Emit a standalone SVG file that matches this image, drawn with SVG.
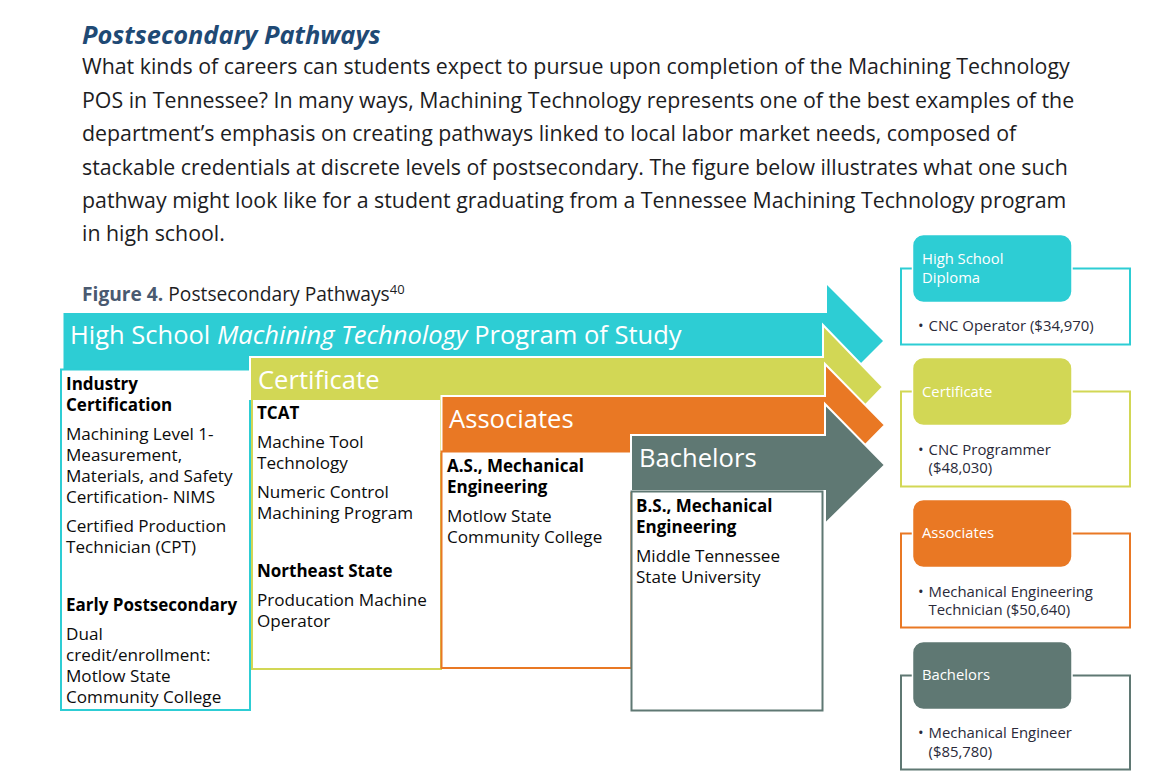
<svg xmlns="http://www.w3.org/2000/svg" width="1157" height="774" viewBox="0 0 1157 774">
<style>
text{font-family:"Open Sans","Noto Sans",sans-serif}
.p{font-size:21.33px;fill:#1d1d1f}
.b{font-size:17.1px;fill:#0c0c0c}
.h{font-size:17px;font-weight:700;fill:#000}
.t{font-size:25.6px;fill:#fff}
.s{font-size:14.8px;fill:#fff}
.l{font-size:14.9px;fill:#2a2a3a}
.box{fill:#fff;stroke-width:2}
.a{stroke:#fff;stroke-width:2}
.f{fill:#fff;stroke-width:2}
.r{stroke:#fff;stroke-width:1.5}
.teal{fill:#2dcdd4}.yel{fill:#d2d755}.ora{fill:#e97824}.gry{fill:#5f7873}
.steal{stroke:#2dcdd4}.syel{stroke:#d2d755}.sora{stroke:#e97824}.sgry{stroke:#5f7873}
</style>
<rect width="1157" height="774" fill="#fff"/>
<g id="intro">
<text x="82" y="44" font-size="25.4" font-weight="700" font-style="italic" fill="#1f4a75">Postsecondary Pathways</text>
<text class="p" x="82" y="74">What kinds of careers can students expect to pursue upon completion of the Machining Technology</text>
<text class="p" x="82" y="108">POS in Tennessee? In many ways, Machining Technology represents one of the best examples of the</text>
<text class="p" x="82" y="141">department’s emphasis on creating pathways linked to local labor market needs, composed of</text>
<text class="p" x="82" y="175">stackable credentials at discrete levels of postsecondary. The figure below illustrates what one such</text>
<text class="p" x="82" y="208">pathway might look like for a student graduating from a Tennessee Machining Technology program</text>
<text class="p" x="82" y="241">in high school.</text>
<text x="82" y="301" font-size="19.2" fill="#1d1d1f"><tspan font-weight="700" fill="#4a5a70">Figure 4.</tspan> Postsecondary Pathways<tspan font-size="13" dy="-7">40</tspan></text>
</g>
<g id="hs-pathway">
<path class="teal" d="M63.500 313H827V285L883 341L827 397V371H63.500Z"/>
<text class="t" style="font-size:25.5px" x="70" y="343.500">High School <tspan font-style="italic">Machining Technology</tspan> Program of Study</text>
<rect class="box steal" x="61" y="369.500" width="189" height="340.500"/>
<text class="h" x="66" y="390">Industry</text>
<text class="h" x="66" y="411">Certification</text>
<text class="b" x="66" y="440">Machining Level 1-</text>
<text class="b" x="66" y="461">Measurement,</text>
<text class="b" x="66" y="482">Materials, and Safety</text>
<text class="b" x="66" y="503">Certification- NIMS</text>
<text class="b" x="66" y="532">Certified Production</text>
<text class="b" x="66" y="553">Technician (CPT)</text>
<text class="h" x="66" y="611">Early Postsecondary</text>
<text class="b" x="66" y="640">Dual</text>
<text class="b" x="66" y="661">credit/enrollment:</text>
<text class="b" x="66" y="682">Motlow State</text>
<text class="b" x="66" y="703">Community College</text>
</g>
<g id="certificate-pathway">
<path class="yel a" d="M250 357H823V325L883 387L823 449V399H250Z"/>
<text class="t" x="258" y="389">Certificate</text>
<rect class="box syel" x="252" y="399" width="189" height="270"/>
<text class="h" x="257" y="419">TCAT</text>
<text class="b" x="257" y="448">Machine Tool</text>
<text class="b" x="257" y="469">Technology</text>
<text class="b" x="257" y="498">Numeric Control</text>
<text class="b" x="257" y="519">Machining Program</text>
<text class="h" x="257" y="577">Northeast State</text>
<text class="b" x="257" y="606">Producation Machine</text>
<text class="b" x="257" y="627">Operator</text>
</g>
<g id="associates-pathway">
<path class="ora a" d="M441.500 396H825V364L885 425L825 486V452H441.500Z"/>
<text class="t" x="449" y="427.500">Associates</text>
<rect class="box sora" x="441.500" y="451.500" width="190" height="216.500"/>
<text class="h" x="447" y="472">A.S., Mechanical</text>
<text class="h" x="447" y="493">Engineering</text>
<text class="b" x="447" y="522">Motlow State</text>
<text class="b" x="447" y="543">Community College</text>
</g>
<g id="bachelors-pathway">
<path class="gry a" d="M631 435H825V404L885 465L825 524V491H631Z"/>
<text class="t" x="639" y="467">Bachelors</text>
<rect class="box sgry" x="631.500" y="491.500" width="191" height="219"/>
<text class="h" x="636" y="512">B.S., Mechanical</text>
<text class="h" x="636" y="533">Engineering</text>
<text class="b" x="636" y="562">Middle Tennessee</text>
<text class="b" x="636" y="583">State University</text>
</g>
<g id="hs-diploma">
<rect class="f steal" x="901" y="268.500" width="229" height="76"/>
<rect class="teal r" x="912.500" y="234.500" width="159.500" height="68" rx="11"/>
<text class="s" x="922" y="264">High School</text>
<text class="s" x="922" y="283">Diploma</text>
<text class="l" x="918" y="331">•</text><text class="l" x="928.500" y="331">CNC Operator ($34,970)</text>
</g>
<g id="certificate">
<rect class="f syel" x="901" y="391.500" width="229" height="95"/>
<rect class="yel r" x="912.500" y="357.500" width="159.500" height="68" rx="11"/>
<text class="s" x="922" y="397">Certificate</text>
<text class="l" x="918" y="455">•</text><text class="l" x="928.500" y="455">CNC Programmer</text>
<text class="l" x="928.500" y="473">($48,030)</text>
</g>
<g id="associates">
<rect class="f sora" x="901" y="533.500" width="229" height="94"/>
<rect class="ora r" x="912.500" y="499.500" width="159.500" height="68" rx="11"/>
<text class="s" x="922" y="538">Associates</text>
<text class="l" x="918" y="597">•</text><text class="l" x="928.500" y="597">Mechanical Engineering</text>
<text class="l" x="928.500" y="615">Technician ($50,640)</text>
</g>
<g id="bachelors">
<rect class="f sgry" x="901" y="675.500" width="229" height="94"/>
<rect class="gry r" x="912.500" y="641.500" width="159.500" height="68" rx="11"/>
<text class="s" x="922" y="680">Bachelors</text>
<text class="l" x="918" y="738">•</text><text class="l" x="928.500" y="738">Mechanical Engineer</text>
<text class="l" x="928.500" y="757">($85,780)</text>
</g>
<g id="connectors"/>
</svg>
